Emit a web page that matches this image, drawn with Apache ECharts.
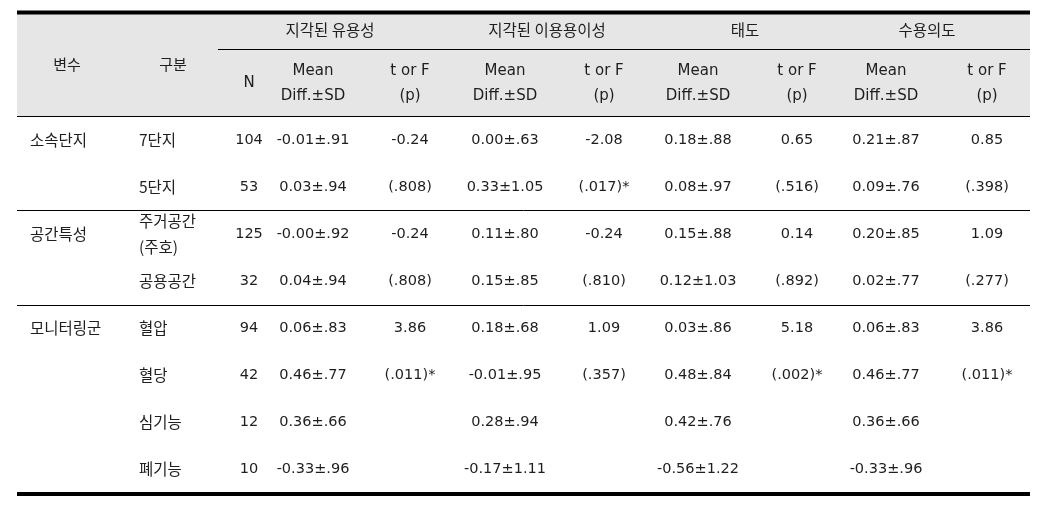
<!DOCTYPE html>
<html><head><meta charset="utf-8">
<script src="https://cdn.jsdelivr.net/npm/echarts@6/dist/echarts.min.js"></script>
<style>html,body{margin:0;padding:0;background:#fff}#c{width:1038px;height:505px}</style>
</head><body><div id="c"></div>
<script>
// ---- data ----
const groupHeaders = ['지각된 유용성', '지각된 이용용이성', '태도', '수용의도'];
const stubHeaders = ['변수', '구분', 'N'];
const meanHeader = 'Mean\nDiff.±SD';
const statHeader = 't or F\n(p)';
const groups = ['소속단지', '', '공간특성', '', '모니터링군', '', '', ''];
const subgroups = ['7단지', '5단지', '주거공간\n(주호)', '공용공간', '혈압', '혈당', '심기능', '폐기능'];
const nValues = ['104', '53', '125', '32', '94', '42', '12', '10'];
const usefulMean = ['-0.01±.91', '0.03±.94', '-0.00±.92', '0.04±.94', '0.06±.83', '0.46±.77', '0.36±.66', '-0.33±.96'];
const usefulStat = ['-0.24', '(.808)', '-0.24', '(.808)', '3.86', '(.011)*', '', ''];
const easeMean = ['0.00±.63', '0.33±1.05', '0.11±.80', '0.15±.85', '0.18±.68', '-0.01±.95', '0.28±.94', '-0.17±1.11'];
const easeStat = ['-2.08', '(.017)*', '-0.24', '(.810)', '1.09', '(.357)', '', ''];
const attMean = ['0.18±.88', '0.08±.97', '0.15±.88', '0.12±1.03', '0.03±.86', '0.48±.84', '0.42±.76', '-0.56±1.22'];
const attStat = ['0.65', '(.516)', '0.14', '(.892)', '5.18', '(.002)*', '', ''];
const intentMean = ['0.21±.87', '0.09±.76', '0.20±.85', '0.02±.77', '0.06±.83', '0.46±.77', '0.36±.66', '-0.33±.96'];
const intentStat = ['0.85', '(.398)', '1.09', '(.277)', '3.86', '(.011)*', '', ''];

// ---- layout (not data) ----
const columns = [groups, subgroups, nValues, usefulMean, usefulStat, easeMean, easeStat, attMean, attStat, intentMean, intentStat];
const colX = [30, 139, 249, 313, 410, 505, 604, 698, 797, 886, 987];
const colAlign = ['left', 'left', 'center', 'center', 'center', 'center', 'center', 'center', 'center', 'center', 'center'];
const groupCenters = [330, 547, 745, 927];
const TXT = '#1e1e1e';
const KFONT = '"Noto Sans CJK KR", sans-serif';
const NFONT = '"DejaVu Sans", sans-serif';

const cells = [];
columns.forEach((col, c) => {
  col.forEach((t, r) => {
    if (t !== '') cells.push({ value: [colX[c], r], text: t, align: colAlign[c], kor: c < 2 });
  });
});

const chart = echarts.init(document.getElementById('c'), null, { renderer: 'canvas' });

const L = 17, R = 1030;
const graphic = [
  { type: 'rect', shape: { x: L, y: 13, width: R - L, height: 103 }, style: { fill: '#e6e6e6' }, z: 0 },
  { type: 'rect', shape: { x: L, y: 10.5, width: R - L, height: 4 }, style: { fill: '#000' }, z: 5 },
  { type: 'rect', shape: { x: L, y: 492, width: R - L, height: 4 }, style: { fill: '#000' }, z: 5 },
  { type: 'line', shape: { x1: 218, y1: 49.5, x2: R, y2: 49.5 }, style: { stroke: '#000', lineWidth: 1 }, z: 5 },
  { type: 'line', shape: { x1: L, y1: 116.5, x2: R, y2: 116.5 }, style: { stroke: '#000', lineWidth: 1.2 }, z: 5 },
  { type: 'line', shape: { x1: L, y1: 210.5, x2: R, y2: 210.5 }, style: { stroke: '#000', lineWidth: 1 }, z: 5 },
  { type: 'line', shape: { x1: L, y1: 305.5, x2: R, y2: 305.5 }, style: { stroke: '#000', lineWidth: 1 }, z: 5 },
  { type: 'text', x: 67, y: 64, style: { text: stubHeaders[0], align: 'center', verticalAlign: 'middle', fontSize: 15, fontFamily: KFONT, fill: TXT }, z: 6 },
  { type: 'text', x: 173, y: 64, style: { text: stubHeaders[1], align: 'center', verticalAlign: 'middle', fontSize: 15, fontFamily: KFONT, fill: TXT }, z: 6 },
  { type: 'text', x: 249, y: 83, style: { text: stubHeaders[2], align: 'center', verticalAlign: 'middle', fontSize: 15, fontFamily: NFONT, fill: TXT }, z: 6 }
];
groupHeaders.forEach((g, i) => {
  graphic.push({ type: 'text', x: groupCenters[i], y: 30, style: { text: g, align: 'center', verticalAlign: 'middle', fontSize: 15.5, fontFamily: KFONT, fill: TXT }, z: 6 });
  graphic.push({ type: 'text', x: colX[3 + 2 * i], y: 83.5, style: { text: meanHeader, align: 'center', verticalAlign: 'middle', lineHeight: 25, fontSize: 15, fontFamily: NFONT, fill: TXT }, z: 6 });
  graphic.push({ type: 'text', x: colX[4 + 2 * i], y: 83.5, style: { text: statHeader, align: 'center', verticalAlign: 'middle', lineHeight: 25, fontSize: 15, fontFamily: NFONT, fill: TXT }, z: 6 });
});

chart.setOption({
  animation: false,
  backgroundColor: '#fff',
  graphic: graphic,
  grid: { left: 0, right: 0, top: 117, bottom: 12 },
  xAxis: { type: 'value', min: 0, max: 1038, show: false },
  yAxis: { type: 'category', inverse: true, data: subgroups.map((_, i) => i), show: false },
  series: [{
    type: 'custom',
    clip: false,
    data: cells,
    renderItem: function (params, api) {
      const d = cells[params.dataIndex];
      const p = api.coord([api.value(0), api.value(1)]);
      return {
        type: 'text', x: p[0], y: p[1],
        style: {
          text: d.text, align: d.align, verticalAlign: 'middle',
          fontSize: d.kor ? 15.5 : 14.5, lineHeight: 26,
          fontFamily: d.kor ? KFONT : NFONT, fill: TXT
        }
      };
    }
  }]
});
</script>
</body></html>
